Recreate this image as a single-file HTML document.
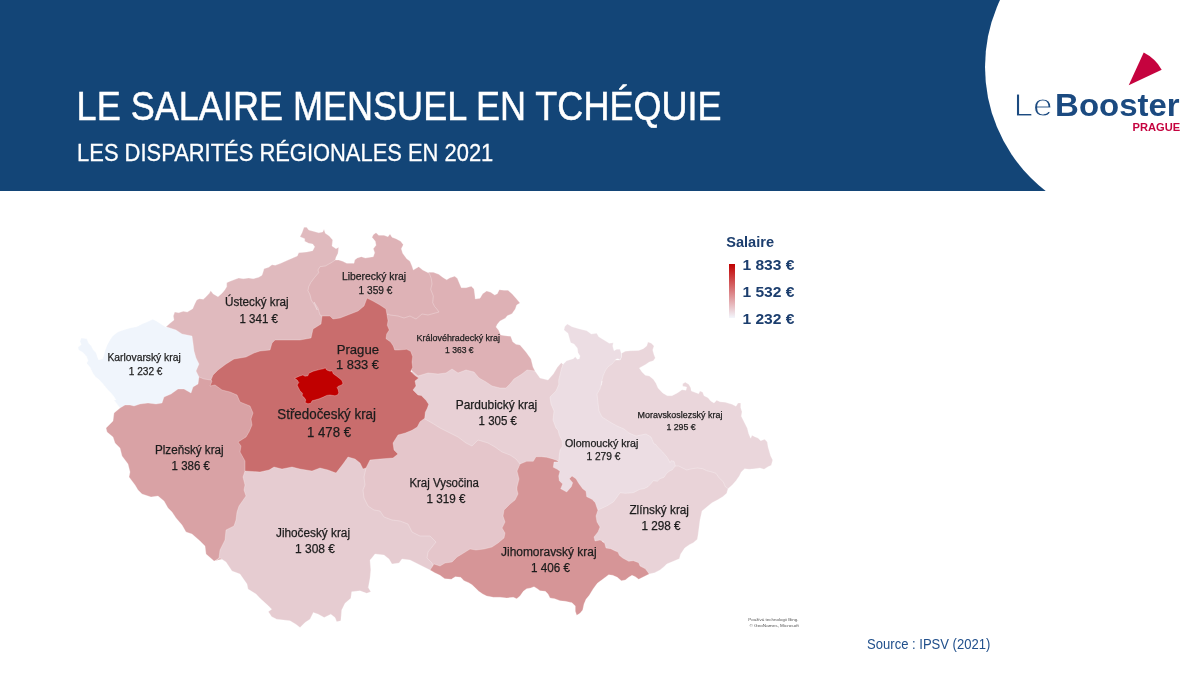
<!DOCTYPE html>
<html lang="fr"><head><meta charset="utf-8"><title>Le salaire mensuel en Tchéquie</title>
<style>
html,body{margin:0;padding:0;background:#fff;}
body{width:1200px;height:675px;position:relative;overflow:hidden;font-family:"Liberation Sans",sans-serif;}
#hdr{position:absolute;left:0;top:0;width:1200px;height:191px;background:#134577;overflow:hidden;}
#circ{position:absolute;left:985px;top:-90px;width:314px;height:314px;border-radius:50%;background:#fff;}
#bar{position:absolute;left:729px;top:264px;width:6px;height:54px;background:linear-gradient(#c00000,#f3f6fc);}
#map{position:absolute;left:0;top:0;}
#map text{font-family:"Liberation Sans",sans-serif;white-space:pre;}
#lbl text{fill:#1c1c1c;stroke:#1c1c1c;stroke-width:0.25px;}
</style></head><body>
<div id="hdr"><div id="circ"></div></div>
<div id="bar"></div>
<svg id="map" width="1200" height="675" viewBox="0 0 1200 675">
<path d="M1143.7,52.5 Q1155.5,58.5 1161.7,69.7 L1128.7,85.3 Z" fill="#c5033f"/>
<g stroke="#ffffff" stroke-opacity="0.45" stroke-width="0.6" stroke-linejoin="round">
<polygon id="KV" fill="#f0f5fc" points="120,408 114,400 116,400 114,396.7 111.3,393.3 108,390 105.3,386.7 102,382.7 98.7,379.3 95.3,376.7 92.7,372.7 90,367.3 86.7,363.3 88,360.7 86.7,356.7 83.3,352.7 78.7,350 78,347.3 81.3,344.7 80,341.3 81.3,338 86.7,338.7 88.7,343.3 91.3,346 93.3,350 96,352.7 97.3,356.7 98.7,360 102.7,358.7 104,354.7 105.3,350 107.3,344.7 110,340 112.7,336 118,332 123.3,330 130,328 136.7,326.7 142,324 148.7,321.3 152.7,319.3 156.7,321.3 162,324.7 166,327.3 185,320 215,345 215,385 190,410 140,420"/>
<polygon id="PL" fill="#d9a2a5" points="199,377 198,384 193,387 191,393 184,389 178,389 171,394 164,397 162,403 156,404 148,403 140,404 134,406 130,405 125,405 120,408 114,413 113,421 106,428 107,432 113,437 115,443 120,448 122,456 128,464 130,472 129,477 135,485 138,490 142,494 151,497 158,496 164,501 168,508 172,512 176,518 182,525 186,532 192,534 200,541 205,546 206,554 214,561 240,555 262,540 262,470 270,440 270,392 232,374 206,368"/>
<polygon id="JC" fill="#e6ccd1" points="245,471 243,477 245,485 244,490 246,496 239,506 237,512 236,520 234,526 226,530 225,540 220,550 219,558 215,561 220,558 226,562 232,571 240,574 247,584 248,589 256,594 260,598.3 268.3,605.8 271.7,609.2 268.3,611.7 271.7,616.7 276.7,619.2 290,620.8 295.8,624.2 300,627.5 305,622.5 310,619.2 313.3,612.5 318.3,614.2 324.2,617.5 330.8,614.2 335,617.5 336.7,621.7 340.8,620.8 341.7,610 345,603.3 350.8,598.3 351.7,591.7 360,590.8 366.7,593.3 370.8,591.7 368.3,587.5 370,578.3 370.8,570 370,560 371,559 375,554 384,555 389,559 392,564 399,563 402,559 410,560 418,564 424,567 430,570 440,571 445,540 420,500 400,480 370,450 300,450 250,455"/>
<polygon id="VY" fill="#e5c6cb" points="366,468 364,477 365,485 363,490 364,498 368,506 374,510 380,511 384,517 392,520 400,521 408,524 412,532 420,536 430,536 436,542 432,547 428,552 427,558 432,563 433,567 430,570 470,575 520,560 530,480 530,455 440,410 415,415 385,445 365,452"/>
<polygon id="JM" fill="#d69597" points="520,464 517,471 519,479 517,487 517,490 518,494 515,500 510,504 504,510 503,516 505,522 502,528 505,533 504,538 498,543 492,547 484,549 476,550 470,549 462,554 457,557 452,562 445,563 440,566 434,564 430,570 434.7,572.7 440,575.3 444.7,578.7 451.3,579.3 455.3,576.7 460.7,577.3 464,580.7 468.7,582.7 472,584.7 474.7,587.3 478.7,591.3 482.7,594 486.7,596 493.3,597.3 500,597.3 506.7,598 513.3,597.3 516.7,598.7 520,596 523.3,591.3 526.7,588.7 530.7,588 534,586.7 537.3,588.7 540,590.7 545.3,591.3 548,594 550,598 554.7,598.7 560,600.7 565.3,601.3 572,602.7 575.3,606 575.3,611.3 576.7,615.3 580,613.3 582.7,610 584,604 586,599.3 589.3,595.3 593.3,588.7 597.3,583.3 602.7,579.3 608.7,574.7 612.7,575.3 617.3,577.3 621.3,580.7 625.3,580 628.7,577.3 632,575.3 635.3,576.7 638.7,579.3 642.7,577.3 646.7,575.3 649.3,574 640,540 612,520 612,498 600,470 570,440 540,440"/>
<polygon id="ZL" fill="#e9d3d8" points="598,510 596,516 597,522 600,527 598,532 594,537 595,541 600,540 604,542 602,541.3 604.7,543.3 606,548 610.7,548.7 614.7,550.7 618,552 619.3,555.3 622.7,558 628.7,561.3 633.3,560.7 638.7,562.7 640,566 645.3,568.7 649.3,574 654.7,572.7 660,570 664,566.7 666.7,564 673.3,561.3 679.3,558.7 680.7,554 684.7,548 689.3,544.7 693.3,542.7 697.3,539.3 698,535.3 698.7,530 700,520 702,511 708,506 712,502.7 717.3,500 722.7,496.7 726.7,493.3 728,488.7 728,470 700,455 655,458 620,480 600,495"/>
<polygon id="MS" fill="#ead6db" points="620,360 621.3,357.3 621.6,353.3 625.3,351.3 630.7,350.7 638.7,350.4 643.3,348.7 646.7,346 648,342 651.3,343.3 654,346 652.7,350 654,354.7 655.3,358 653.3,360.7 649.3,362 645.3,364.7 639.3,368 642,372 645.3,375.3 649.3,376 653.3,379.3 656,383.3 658,388 662.7,393 667.3,395.7 672,395.7 677.3,393 682,389.7 686,390.3 686.7,387 682.7,386.3 682.7,383.7 685.3,382.3 688.7,384.3 690.7,387.7 691.3,391 694.7,392.3 698.7,393.7 700,391 702.7,392.3 704,395.7 708,397.7 710.7,401 714,403 716.7,400.3 720,401.7 725.3,402.3 732,404.3 736,406.3 738,403 740.7,403 740.7,407.7 742,411.7 741.3,416.3 743.3,420.3 745.3,424.3 747.3,428.3 748.7,433.7 750.7,438.3 752,435.3 754.7,436.7 758,438 760.7,440.7 764.7,439.3 767.3,442 768,446.7 769.3,451.3 770.7,456 772.7,460 771.3,465.3 768,466.7 764,469.3 760,468 754.7,468.7 749.3,469.3 744.7,468.7 741.3,472 739.3,476 736,480.7 732,485.3 728,488.7 725.3,486.7 723.3,482 718.7,477.3 716,473.3 712,472 706.7,470.7 702.7,468.7 697.3,468 692,468.7 686.7,470 682.7,468 678.7,466 675.3,466 660,465 640,450 610,435 590,410 590,380 605,360"/>
<polygon id="OL" fill="#ecdde3" points="562.9,364.4 566.7,360.7 573.3,358.7 575.3,356.7 577.3,359.3 579.3,358.7 580,356 578,352.7 577.3,348 574,344 570.7,342.7 569.3,338 568,333.3 564,330 564.7,326.7 567.3,324 572,326.7 578.7,328.7 586.7,330.7 591.3,334 596.7,333.3 598.7,336.7 604,340 609.3,343.3 613.3,342.7 612.7,346 614,350.7 616.7,349.3 620,349.3 621.3,353.3 621.3,357.3 620,360 618,358.7 616,359.3 612,364 608,366.7 605.3,370.7 603.3,375.3 602,380 601.3,385.3 602,381 600,389 597,394 598,403 599,411 602,417 610,422 617,426 624,429 629,433 636,436 646,434 651,437 654,444 655.3,444 657.3,446.7 662.7,452 666.7,456.7 668.7,460 670,462.7 671.3,460.7 674,461.3 675.3,466 672,470 670,470.7 666.7,473.3 664,477.3 660,478.7 657.3,481.3 653.3,480.7 650.7,484 648,486.7 644,488.7 640,489.3 640,489.3 633.3,492.7 625.3,493.3 620,492.7 617.3,496.7 613.3,502 606.7,506 598,510 597.3,508.7 595.3,502.7 592,499.3 586.7,496.7 586,491.3 582.7,488.7 578.7,483.3 576,478.7 572,476 569.3,478.7 572.7,482.7 571.3,486.7 566.7,492 560.7,488.7 562.7,484 559.3,480.7 558.7,476 560,471.3 557.3,469.3 553.3,467.3 554,462 558.7,462 548,450 540,420 545,395 554,382"/>
<polygon id="PA" fill="#e8d0d5" points="535,371 540,378 548,380 553.3,374 557.3,367.3 561.3,362.7 563,364.4 561.3,369.3 560,374.7 558.7,380 558.7,383.3 559,384 556,391 550,397 551,404 554,411 553,420 556,428 558,430 559.3,435.3 562,440.7 562.7,446 560,450 559.3,455.3 558.7,461.3 556,460 552,458.7 546.7,457.3 541.3,456.7 536,456.7 533.3,461.3 526.7,461.3 520,464 516,459 510,455 502,452 495,447 488,443 478,440 472,446 466,443 458,437 450,433 440,428 432,423 425,419 415,415 405,395 405,380 420,362 450,358 480,365 500,375 515,365 527,362"/>
<polygon id="HK" fill="#deb1b5" points="428.7,272.3 433.3,272.3 438.7,274.3 443.3,277.7 446.7,279.7 450,277.7 454.7,276.3 457.3,278.3 459.3,283 461.3,287.7 466,287.7 471.3,286.3 474,289 474.7,293.7 475.3,299 480,298.3 482.7,293.7 486.7,291 490.7,292.3 494.7,295 497.3,293.7 499.3,289.7 504,290.3 508,290.3 512,293.7 516,298.3 520,303 516.7,305 515.3,309 512,313.7 507.3,315.7 505.3,318.3 500,321 497.3,324.3 496,327 498.7,330.3 500.7,335 505.3,335.7 510.7,336.3 512.7,341.7 516,344.3 520,345 526,352 531,359 533,367 535,371 527,370 522,374 514,379 510,384 506,388 500,388 492,386 486,382 479,378 474,372 466,370 458,373 452,369 446,373 438,374 428,373 418,376 405,365 395,352 380,340 380,318 385,300 395,300 420,300 424,280"/>
<polygon id="LB" fill="#deb2b6" points="335.3,260 338.7,260 342.7,261.3 346.7,263.3 354,263.3 354.7,260 357.3,258 361.3,256.7 365.3,258 373.3,256.7 374.7,252.7 373.3,248.7 376,245.3 375.3,241.3 372,237.3 373.3,234.7 376,232.7 378.7,235.3 384,235.3 388,236.7 390,234 392,237.3 396,238.7 400.7,241.3 403.3,244.7 401.3,248.7 402.7,253.3 406.7,258.7 410,261.3 412,266 413.3,270 418.7,266.7 422.7,270 426.7,272 429.3,273.3 431.3,278.7 432,284 430.7,289.3 433.3,296 432.7,302.7 434.7,306.7 436,308 439,312 428,315 422,314 416,319 410,316 404,318 398,316 390,315 388,314 380,320 365,318 340,325 325,325 315,318 312,315 303,290 310,270 328,258"/>
<polygon id="UL" fill="#e0babe" points="166,326.7 170,323.3 174,320 173.3,316 174.7,312 178.7,312.7 183.3,311.3 187.3,312 192.7,308.7 194.7,304 196.7,300 199.3,298.7 203.3,299.3 206,296.7 209.3,293.3 210.7,290.7 213.3,294 218,296.7 222,293.3 224.7,290 226.7,286.7 226.7,282.7 230,281.3 235.3,279.3 238.7,278 243.3,278.7 248.7,278 253.3,278.7 258.7,277.3 262,275.3 263.3,271.3 264,268.7 268.7,267.3 272,264.7 275.3,265.3 280.7,263.3 288,260 297.3,256 298.7,252.7 306.7,252 312.7,250.7 314.7,246.7 312.7,244 308.7,243.3 304.7,241.3 304.7,238.7 300,236.7 302,232.7 304,227.3 306.7,227.3 308.7,230 313.3,231.3 318.7,232.7 322.7,232 324,229.3 325.3,233.3 329.3,236 332.7,240 332,246 336,248.7 338.7,247.3 338,253.3 336,257.3 335.3,260 331.3,262.7 325.3,266 320,266.7 318,270 318.7,272.7 314.7,277.3 310.7,282.7 308.7,286.7 308,290.7 310,294.7 311.3,300 314.7,305.3 317.3,310 314,302 318,308 320,315 322,316 330,325 320,345 280,350 260,365 230,372 218,381 211,380 204,379 199,377 196,371 199,364 196,358 194,351 193,343 192,336 182,334 176,330"/>
<polygon id="ST" fill="#c96d6d" points="211,380 213,375 218,370 226,364 234,359 246,357 254,353 260,351 270,350 272,343 275,340 300,340 311,338 313,329 321,324 322,316 330,316 333,319 340,318 358,311 364,306 367,298 373,301 380,305 386,309 387,314.7 388,320.7 387.3,325.3 389.3,330 386.7,334 386,338.7 390.7,342 393.3,346 394.7,350 398.7,350 406.7,349.3 410.7,351.3 412.7,356.7 412,362 412.7,367.3 410.7,371.3 414.7,375.3 418.7,378 415,381 416,386 413,390 418,395 421.3,395.5 426,400.3 428.7,404.3 427.3,408.3 425.3,412.3 424.7,418.3 420,421.7 417.3,427 412,430.3 405.3,433 398,435 393,443 394,450 398,454 393,458 380,459 370,460 366,468 363,469 360,463 355,459 348,457 343,464 336,473 328,470 320,468 312,471 300,469 292,467 282,469 274,467 269,470 260,472 245,471 245,461 240,452 241,446 238,442 246,437 249,432 252,425 251,419 253,413 250,406 240,402 237,395 230,392 222,390 215,385 210,386 212,381"/>
<polygon id="PR" fill="#c00000" points="294.6,378.3 299.2,376.2 302.9,375 305,376.2 307.9,375.8 308.8,373.3 313.3,371.2 319.2,369.6 323.3,368.8 325.4,367.9 326.7,370 330,371.2 332.1,370.8 333.3,373.8 336.7,376.2 340,378.8 342.1,380.8 342.9,383.3 341.7,385 338.3,386.2 337.1,387.5 338.3,390 338.8,392.9 337.5,395 335,395.8 330,395 326.7,395.4 323.3,397.1 319.2,398.8 315,400 312.1,400.8 310.8,403.3 307.9,403.8 305,402.5 305.8,400 304.2,397.5 302.1,395.8 302.5,393.3 300,390.8 298.3,387.5 297.1,385 298.8,382.5 297.1,380"/>
</g>
<g id="lbl" lengthAdjust="spacingAndGlyphs">
<text x="107.5" y="361" font-size="11.3" lengthAdjust="spacingAndGlyphs" textLength="73.2">Karlovarský kraj</text>
<text x="128.7" y="375" font-size="11.3" lengthAdjust="spacingAndGlyphs" textLength="33.8">1 232 €</text>
<text x="225" y="306" font-size="12.2" lengthAdjust="spacingAndGlyphs" textLength="63.7">Ústecký kraj</text>
<text x="239.5" y="322.5" font-size="12.2" lengthAdjust="spacingAndGlyphs" textLength="38.5">1 341 €</text>
<text x="342" y="280" font-size="11" lengthAdjust="spacingAndGlyphs" textLength="64.0">Liberecký kraj</text>
<text x="358.6" y="294" font-size="11" lengthAdjust="spacingAndGlyphs" textLength="33.8">1 359 €</text>
<text x="416.6" y="341" font-size="9.3" lengthAdjust="spacingAndGlyphs" textLength="83.4">Královéhradecký kraj</text>
<text x="445" y="353" font-size="9.3" lengthAdjust="spacingAndGlyphs" textLength="28.6">1 363 €</text>
<text x="336.7" y="354" font-size="13.2" lengthAdjust="spacingAndGlyphs" textLength="42.3">Prague</text>
<text x="336" y="369.3" font-size="13.2" lengthAdjust="spacingAndGlyphs" textLength="43.0">1 833 €</text>
<text x="277.3" y="419.3" font-size="13.8" lengthAdjust="spacingAndGlyphs" textLength="98.7">Středočeský kraj</text>
<text x="307" y="437" font-size="13.8" lengthAdjust="spacingAndGlyphs" textLength="44.0">1 478 €</text>
<text x="455.7" y="409" font-size="12.2" lengthAdjust="spacingAndGlyphs" textLength="81.6">Pardubický kraj</text>
<text x="478.6" y="425" font-size="12" lengthAdjust="spacingAndGlyphs" textLength="38.4">1 305 €</text>
<text x="637.6" y="418" font-size="9.3" lengthAdjust="spacingAndGlyphs" textLength="84.8">Moravskoslezský kraj</text>
<text x="666.4" y="430" font-size="9.3" lengthAdjust="spacingAndGlyphs" textLength="29.2">1 295 €</text>
<text x="565" y="447" font-size="11" lengthAdjust="spacingAndGlyphs" textLength="73.4">Olomoucký kraj</text>
<text x="586.4" y="460" font-size="11" lengthAdjust="spacingAndGlyphs" textLength="34.0">1 279 €</text>
<text x="155" y="454" font-size="12" lengthAdjust="spacingAndGlyphs" textLength="68.6">Plzeňský kraj</text>
<text x="171.6" y="470" font-size="12" lengthAdjust="spacingAndGlyphs" textLength="38.4">1 386 €</text>
<text x="409.4" y="487" font-size="12" lengthAdjust="spacingAndGlyphs" textLength="69.6">Kraj Vysočina</text>
<text x="426.6" y="503" font-size="12" lengthAdjust="spacingAndGlyphs" textLength="39.0">1 319 €</text>
<text x="629.4" y="514" font-size="12" lengthAdjust="spacingAndGlyphs" textLength="59.6">Zlínský kraj</text>
<text x="641.4" y="530" font-size="12" lengthAdjust="spacingAndGlyphs" textLength="39.2">1 298 €</text>
<text x="276" y="537.4" font-size="12" lengthAdjust="spacingAndGlyphs" textLength="74.0">Jihočeský kraj</text>
<text x="295" y="553.2" font-size="12" lengthAdjust="spacingAndGlyphs" textLength="40.0">1 308 €</text>
<text x="501" y="555.6" font-size="12" lengthAdjust="spacingAndGlyphs" textLength="95.6">Jihomoravský kraj</text>
<text x="531" y="571.6" font-size="12" lengthAdjust="spacingAndGlyphs" textLength="39.0">1 406 €</text>
</g>
<g id="txt">
<text x="76.6" y="119.6" font-size="41" font-weight="normal" fill="#ffffff" lengthAdjust="spacingAndGlyphs" textLength="645" stroke="#ffffff" stroke-width="0.5">LE SALAIRE MENSUEL EN TCHÉQUIE</text>
<text x="77.1" y="160.5" font-size="24.4" font-weight="normal" fill="#ffffff" lengthAdjust="spacingAndGlyphs" textLength="416.2" stroke="#ffffff" stroke-width="0.3">LES DISPARITÉS RÉGIONALES EN 2021</text>
<text x="1013.4" y="116.3" font-size="32" font-weight="normal" fill="#1b4a80" lengthAdjust="spacingAndGlyphs" textLength="39.2" stroke="#ffffff" stroke-width="1.0">Le</text>
<text x="1055.1" y="115.8" font-size="31" font-weight="bold" fill="#1b4a80" lengthAdjust="spacingAndGlyphs" textLength="124.6">Booster</text>
<text x="1132.6" y="130.8" font-size="10.6" font-weight="bold" fill="#c5033f" lengthAdjust="spacingAndGlyphs" textLength="47.6">PRAGUE</text>
<text x="726.2" y="247" font-size="14.2" font-weight="bold" fill="#1c3e6e" lengthAdjust="spacingAndGlyphs" textLength="47.8">Salaire</text>
<text x="742.4" y="270.3" font-size="15" font-weight="bold" fill="#1c3e6e" lengthAdjust="spacingAndGlyphs" textLength="52.1">1 833 €</text>
<text x="742.4" y="297.2" font-size="15" font-weight="bold" fill="#1c3e6e" lengthAdjust="spacingAndGlyphs" textLength="52.1">1 532 €</text>
<text x="742.4" y="324.1" font-size="15" font-weight="bold" fill="#1c3e6e" lengthAdjust="spacingAndGlyphs" textLength="52.1">1 232 €</text>
<text x="867.1" y="649.3" font-size="14.5" font-weight="normal" fill="#21508c" lengthAdjust="spacingAndGlyphs" textLength="123.2">Source : IPSV (2021)</text>
<text x="748.2" y="620.8" font-size="4.4" font-weight="normal" fill="#555555" lengthAdjust="spacingAndGlyphs" textLength="50.2">Používá technologii Bing.</text>
<text x="749.4" y="626.8" font-size="4.4" font-weight="normal" fill="#555555" lengthAdjust="spacingAndGlyphs" textLength="49.4">© GeoNames, Microsoft</text>
</g>
</svg>
</body></html>
